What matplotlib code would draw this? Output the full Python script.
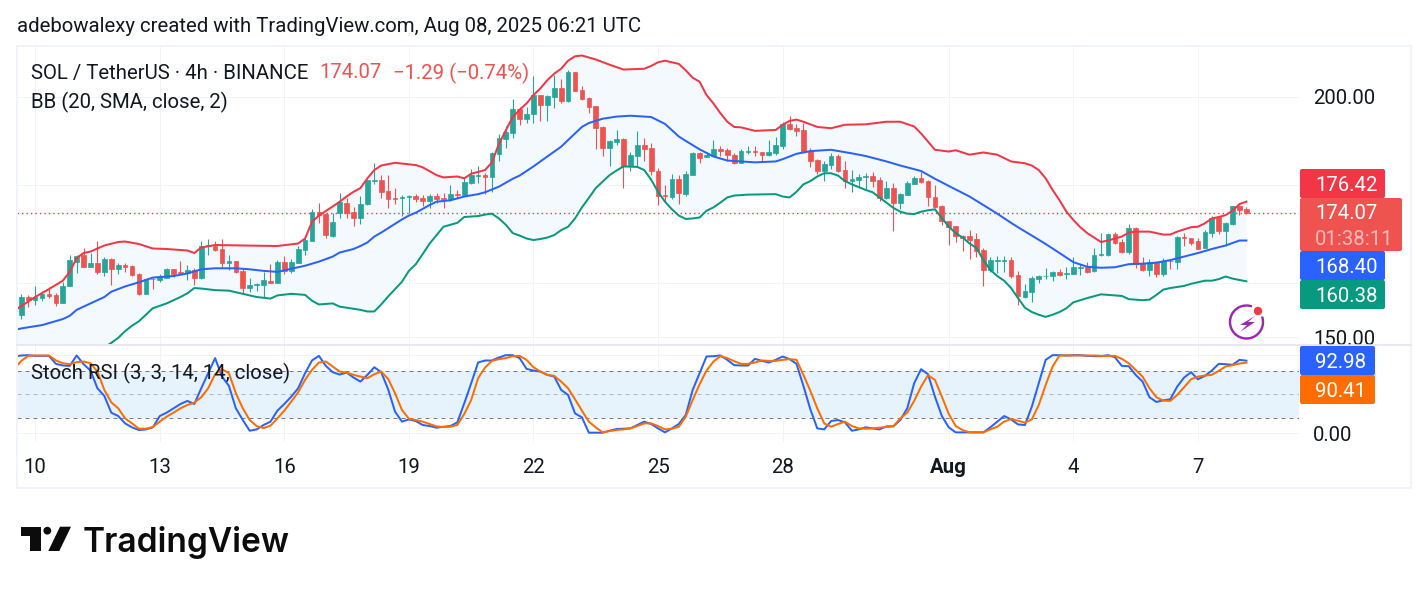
import numpy as np
import matplotlib
matplotlib.use("Agg")
import matplotlib.pyplot as plt
from matplotlib.patches import FancyBboxPatch, Polygon, Circle, Rectangle

plt.rcParams["font.family"] = ["Roboto", "DejaVu Sans"]

# 4h candles, one value per bar
opens = [154.0,157.4,156.9,157.3,158.0,157.8,156.3,159.4,164.2,165.5,
    163.2,163.9,162.2,164.7,162.8,163.5,163.3,161.8,158.0,160.9,
    160.6,161.1,162.8,162.2,162.0,162.6,161.0,167.3,167.4,166.7,
    164.0,164.3,162.4,159.1,159.6,159.7,160.4,160.0,164.1,162.4,
    164.0,166.5,168.3,174.2,173.8,169.4,174.1,176.2,174.2,173.0,
    175.9,180.9,181.1,178.7,177.1,177.2,177.5,177.6,177.1,176.5,
    177.6,177.1,176.9,178.0,177.8,180.4,181.9,182.1,181.6,186.8,
    190.1,191.6,197.1,194.8,195.8,200.4,198.0,199.9,202.1,199.0,
    205.9,201.6,199.7,197.8,192.9,188.2,189.5,190.1,184.0,186.4,
    188.8,188.1,183.0,177.8,177.5,181.2,178.0,182.2,187.0,186.0,
    186.4,187.9,187.6,186.6,184.8,187.2,187.5,187.2,186.6,187.0,
    188.6,193.6,192.6,192.2,187.4,185.5,183.0,184.4,186.3,183.2,
    180.8,181.1,181.6,181.9,181.1,177.2,179.3,176.2,177.8,180.2,
    181.5,180.8,177.4,175.4,172.3,171.4,169.4,169.3,168.7,166.5,
    162.6,164.4,164.4,164.5,161.6,157.4,158.4,160.9,161.4,161.5,
    162.2,161.7,161.8,163.0,163.2,162.4,165.5,165.5,169.7,168.1,
    166.1,171.0,163.9,162.6,164.1,161.8,164.4,164.2,169.1,168.9,
    168.3,166.9,169.9,173.1,170.3,171.7,175.4,174.8]
highs = [158.0,157.8,159.5,158.6,159.3,158.2,160.3,165.5,165.5,166.9,
    165.9,168.3,165.2,164.9,163.9,163.9,163.5,161.9,160.9,161.1,
    161.7,163.0,162.8,164.3,163.5,163.0,168.3,168.7,168.3,168.7,
    165.5,164.3,162.9,161.0,160.1,162.2,163.7,164.5,165.3,164.7,
    167.4,169.2,174.8,176.2,174.1,174.1,178.2,177.1,175.3,177.6,
    181.1,184.7,182.1,182.1,179.3,177.8,177.8,178.0,177.8,178.0,
    178.2,178.2,180.0,178.9,181.6,183.5,184.0,182.6,187.2,191.2,
    193.0,199.4,197.6,197.6,204.9,200.4,200.4,205.2,204.2,206.6,
    205.9,202.6,200.0,197.8,193.0,190.0,192.2,190.3,187.2,192.0,
    190.3,189.2,183.6,180.0,182.3,182.1,183.0,187.1,187.3,187.3,
    189.9,188.6,188.1,186.9,187.8,188.6,188.6,187.3,189.9,190.7,
    194.1,195.4,193.6,193.8,188.1,185.6,185.1,186.9,186.7,185.2,
    183.2,182.3,182.5,182.8,181.6,180.8,180.3,178.3,180.9,181.8,
    182.7,181.1,180.0,175.8,172.4,171.4,169.5,170.5,169.9,166.9,
    165.1,165.3,165.3,165.1,162.4,159.8,161.4,161.6,162.9,162.4,
    162.7,163.1,165.1,163.7,164.1,167.0,169.9,169.9,170.1,168.8,
    171.7,171.1,165.1,164.7,164.3,164.9,164.5,169.4,170.0,169.0,
    169.0,170.5,173.5,173.4,172.1,175.6,175.7,175.2]
lows = [153.4,155.6,155.9,156.7,157.2,155.7,156.3,159.4,162.0,163.2,
    163.2,161.8,161.4,159.7,161.8,162.2,161.4,157.8,158.0,158.9,
    160.3,161.1,161.3,161.8,160.6,159.7,160.8,165.5,166.4,163.1,
    162.6,162.0,158.1,158.4,158.6,157.4,160.0,160.0,161.7,161.9,
    164.0,165.5,168.3,172.0,169.0,169.2,172.9,172.9,171.4,171.7,
    175.7,180.2,177.2,175.1,176.0,173.5,174.0,176.4,175.5,175.0,
    176.2,175.1,176.5,177.1,177.8,180.2,180.4,178.0,178.5,185.3,
    188.1,190.3,193.4,193.8,193.8,194.2,194.2,197.4,198.6,198.8,
    201.4,199.2,196.2,187.9,186.3,184.2,188.8,179.4,183.1,183.8,
    185.1,182.1,175.7,176.4,176.9,176.0,177.7,182.2,184.8,186.0,
    186.4,186.4,185.3,184.6,184.8,186.8,186.4,185.3,186.4,186.6,
    187.9,192.1,190.8,186.9,183.8,182.4,180.8,183.5,182.7,179.4,
    178.5,179.6,179.1,179.6,176.6,176.9,170.3,174.8,177.8,180.1,
    180.3,175.4,175.1,171.6,167.5,168.1,166.3,164.7,165.2,159.4,
    162.2,162.0,162.2,161.1,155.9,157.2,156.4,160.1,160.9,160.5,
    161.4,160.9,161.8,161.6,161.9,162.2,165.3,165.3,167.7,165.9,
    165.7,163.0,162.4,161.5,161.3,161.5,162.7,162.8,167.3,167.5,
    166.7,166.9,169.1,169.7,167.4,171.6,173.7,173.8]
closes = [157.4,156.9,157.4,158.0,157.6,156.2,159.5,164.5,165.3,163.2,
    163.9,162.2,164.8,162.8,163.5,163.2,161.6,158.0,160.8,160.8,
    161.3,162.8,161.8,161.9,162.6,161.0,167.3,167.5,166.5,164.0,
    164.3,162.2,159.1,159.7,159.9,160.6,160.1,164.1,162.4,164.1,
    166.7,168.5,174.2,173.7,169.5,172.2,176.4,174.1,173.0,175.9,
    181.1,181.1,178.5,177.0,176.9,177.5,177.6,176.9,176.5,177.6,
    176.9,176.9,178.0,177.8,180.6,182.1,182.1,181.6,186.9,190.3,
    191.7,197.1,194.7,195.9,200.4,198.0,200.2,202.1,199.0,205.9,
    201.4,199.4,197.6,192.7,188.2,189.6,190.1,184.1,186.6,188.8,
    187.9,182.9,177.7,177.7,181.3,178.3,182.4,187.0,185.9,186.6,
    187.9,187.5,186.6,184.8,187.5,187.4,187.2,186.6,187.2,188.8,
    193.6,192.4,192.0,187.2,185.3,183.0,184.6,186.3,183.1,180.8,
    181.3,181.7,181.9,180.9,177.2,179.3,176.2,178.0,180.3,181.5,
    180.6,177.4,175.2,172.3,171.2,169.4,169.0,168.5,166.4,162.6,
    164.5,164.5,164.5,161.4,157.5,158.6,161.0,161.4,161.5,162.2,
    161.6,161.9,163.2,163.2,162.1,165.5,165.7,169.7,168.0,166.1,
    171.0,163.7,162.6,164.1,161.8,164.3,164.3,169.1,168.9,167.9,
    166.7,170.1,172.9,170.3,171.9,175.4,174.7,174.07]

# Bollinger bands, read at the bars listed
upper_bars = [-1,0,2,4,6,7,8,9,10,11,12,14,15,17,19,21,24,25,26,28,32,37,40,41,42,43,45,46,
    47,48,49,50,51,52,54,57,58,60,61,63,64,65,67,68,69,70,71,72,73,74,75,76,77,78,79,80,81,83,85,87,90,91,92,93,95,
    96,97,98,99,100,101,102,103,104,105,106,109,110,111,112,113,115,117,119,122,125,127,129,130,132,134,135,137,139,141,143,
    145,146,147,148,149,150,151,152,153,154,155,156,157,159,160,161,163,165,166,167,169,170,171,172,173,174,175,176,177]
upper_vals = [154.9,155.7,157.4,158.9,160.5,162.2,164.9,165.9,166.2,166.8,167.4,168.1,168.2,167.7,166.8,166.7,166.4,165.9,167.0,167.5,167.4,167.3,167.8,168.8,172.2,173.5,175.4,176.4,
    177.5,178.5,179.3,181.4,183.2,184.2,184.8,184.3,183.8,182.1,181.6,181.8,181.4,182.4,183.2,184.9,189.0,192.1,195.2,196.9,198.4,200.4,202.0,204.0,205.6,206.8,208.8,209.9,210.1,209.1,207.8,206.6,206.8,207.5,208.4,208.8,208.0,
    206.4,204.6,203.6,200.4,198.4,196.1,194.1,192.9,192.8,192.4,192.0,192.2,193.4,194.3,194.6,194.1,192.9,192.6,193.4,193.5,194.1,194.1,193.0,191.4,187.7,187.3,187.6,186.6,187.1,186.6,185.1,
    184.7,184.2,183.2,181.4,178.9,176.7,174.3,172.6,171.1,169.9,169.0,168.1,168.4,169.2,170.0,170.2,170.2,169.6,169.6,170.2,171.1,171.2,171.9,172.9,173.2,173.6,174.5,175.9,176.42]
middle_bars = [-1,0,3,6,7,8,10,12,13,15,17,19,22,24,26,28,31,33,35,37,39,41,43,45,46,
    48,49,50,51,52,53,55,56,57,59,60,62,64,66,67,69,71,72,74,76,78,80,81,82,84,86,88,91,93,95,
    96,98,100,102,104,106,109,110,112,114,117,120,122,125,127,130,132,135,137,139,141,143,
    144,146,148,150,152,154,156,158,160,162,164,166,168,170,172,174,176,177]
middle_vals = [151.3,151.6,152.2,153.3,153.9,155.0,156.2,157.4,158.4,159.4,160.2,161.1,161.4,161.9,162.7,162.9,162.9,162.7,162.4,162.2,162.8,163.4,164.2,165.2,166.0,
    166.7,167.3,168.0,169.2,170.0,170.9,172.7,173.5,174.1,175.7,176.4,176.7,177.5,178.0,178.4,179.6,181.3,182.0,184.0,186.2,188.4,191.4,192.9,193.8,194.8,195.3,195.5,195.2,193.6,190.7,
    189.7,187.8,186.2,185.3,185.1,184.9,185.1,185.6,186.8,187.4,187.7,186.9,186.3,185.1,184.2,183.0,181.3,179.0,177.5,175.7,173.9,172.0,
    171.1,169.4,167.7,165.9,164.1,163.2,163.0,163.1,163.7,163.8,164.0,164.5,165.2,165.9,166.7,167.4,168.4,168.40]
lower_bars = [-1,3,6,9,11,12,13,14,15,16,17,19,21,23,24,25,26,28,30,32,34,36,37,39,41,42,43,45,46,
    48,49,50,51,52,53,54,55,56,57,58,59,60,61,62,63,64,66,67,68,69,70,71,72,73,74,75,76,77,78,79,80,81,82,83,84,85,86,87,89,90,91,92,93,94,95,
    96,97,98,99,100,101,102,103,105,109,110,111,112,113,114,115,116,117,118,119,120,121,122,123,124,125,126,127,128,129,130,131,132,133,134,135,136,137,138,139,140,141,142,143,144,
    145,146,147,148,149,150,151,152,154,156,158,159,160,162,163,164,165,166,168,169,171,172,173,174,175,177]
lower_vals = [147.7,147.0,146.2,146.0,147.0,148.2,149.0,149.9,151.1,152.1,152.9,155.3,156.2,157.4,158.1,159.1,159.0,158.7,158.6,158.0,157.4,157.1,157.7,158.0,157.8,156.7,156.0,156.2,155.6,
    155.2,155.0,154.7,154.7,156.0,157.5,158.9,160.3,162.4,163.7,165.7,167.8,169.5,171.2,171.6,172.0,173.2,173.4,173.7,173.9,172.9,171.6,169.9,169.4,168.8,168.5,168.7,169.0,169.5,170.5,171.2,172.9,175.2,177.2,179.3,180.7,182.1,183.1,184.0,183.9,183.2,181.1,178.5,176.4,174.8,173.5,
    172.8,172.9,173.1,174.5,175.2,176.2,177.3,177.7,177.9,178.0,177.5,177.3,178.5,180.1,180.8,181.8,182.5,182.5,182.0,180.8,180.1,179.5,178.9,178.4,177.3,176.2,175.1,174.3,173.9,173.8,174.3,174.6,174.8,173.0,171.2,169.9,169.0,167.8,166.9,164.5,162.6,161.4,160.5,159.1,157.2,
    155.4,154.6,154.1,153.7,154.1,154.6,155.3,156.4,157.2,157.9,157.7,157.6,157.0,156.8,156.9,157.8,158.8,159.1,159.5,159.9,160.5,160.5,160.8,161.3,160.9,160.38]

# Stoch RSI per bar, starting one bar left of the first candle
stoch_k = [98.3,99.6,100,99.1,99.1,99.1,88.9,86.8,86.3,99.6,88.5,80.3,57.7,47.9,26.5,22.2,12.8,7.7,4.3,5.1,7.7,22.2,26.5,32.1,37.6,41.5,37.6,57.7,76.9,96.2,72.6,60.7,32.1,17.1,3.4,5.1,10.7,15,29.1,37.6,47,57.7,76.9,93.2,99.1,86.3,78.2,75.2,77.8,71.4,66.2,74.8,84.6,78.2,56.4,27.8,15,17.9,15.8,10.7,9.4,7.3,8.5,9.4,14.1,38.5,64.1,90.6,93.2,93.2,97,100,100,96.2,82.5,80.3,79,74.8,72.6,55.6,49.1,25.6,20.5,0.9,0.9,0.9,3.4,5.6,6,6.4,10.7,15,12,6.4,
    1.3,6.4,12,23.5,55.6,76.9,98.3,98.7,99.6,94,87.2,86.8,86.8,95.3,92.7,90.6,94,98.3,94.9,88.9,60.7,30.8,6.4,5.1,15.8,17.1,14.1,3.4,5.1,7.7,6.4,5.1,9,9,17.1,32.1,64.1,82.1,75.6,47,22.2,7.7,1.3,1.3,1.3,1.3,1.3,7.7,15,22.2,17.9,11.5,10.7,34.2,64.1,94,100,100,99.6,100,100,99.1,98.7,98.7,100,97.4,86.3,85.9,74.8,66.2,46.2,40.2,42.3,43.6,59.8,71.4,78.2,69.2,73.5,80.3,88.9,88.5,87.6,94,92.98]
stoch_d = [83.0,92.7,99.1,99.6,99.6,99.6,93.2,89.7,88.5,91,91.9,89.7,79,55.6,39.7,32.1,19.2,12.8,6,6,8.1,15,21.4,26.5,32.1,36.3,39.3,46.2,57.7,75.6,82.1,76.9,51.3,32.1,17.1,9.4,6.8,9.8,19.2,29.1,40.6,52.6,68.4,81.2,90.6,91.9,85.5,79,77.8,74.8,72.6,70.5,75.6,79,69.7,51.3,29.9,18.8,17.1,15,12,9,8.1,8.5,10.7,24.8,42.7,70.5,84.2,92.7,94.9,96.2,98.7,99.1,94,84.6,79,74.8,73.5,66.2,57.7,43.6,29.1,15,7.7,1.3,3,4.3,5.1,6.4,9.4,12.8,12.8,9.4,
    5.1,6,8.5,21.4,42.7,62.8,80.3,91.9,98.7,96.2,92.3,88.9,88.9,90.6,93.2,92.7,92.7,94,94.9,94,74.8,54.3,32.1,12.8,8.5,12,15,9.4,6.4,6,6.4,7.3,8.1,9,19.2,26.5,41.5,59.8,74.4,68.4,47,24.8,9.4,4.3,1.3,1.3,1.3,5.1,8.5,15,18.4,16.2,13.7,17.9,36.3,62,85.5,99.6,99.6,99.6,99.6,99.6,99.6,99.1,99.1,99.1,95.3,89.7,81.2,72.6,57.7,46.2,41.9,41.5,49.1,59,69.2,72.6,73.9,74.8,79.9,85.5,87.2,89.3,90.41]

day_bars = [2, 20, 38, 56, 74, 92, 110, 134, 152, 170]
day_labels = ["10", "13", "16", "19", "22", "25", "28", "Aug", "4", "7"]
price_grid = [200, 180, 160, 150]

W, H = 1428, 591
GREEN, RED = "#26A69A", "#EF5350"
GRID = "#F0F3FA"
INK = "#131722"
PX = 72 / 100  # one pixel in points
FS = 14.65
LINE = 2.0 * PX


def pane(top, bottom):
    return [17 / W, 1 - bottom / H, (1299 - 17) / W, (bottom - top) / H]


fig = plt.figure(figsize=(W / 100, H / 100), dpi=100, facecolor="white")
ax = fig.add_axes(pane(46, 344))
ax2 = fig.add_axes(pane(345, 442))

bars = np.arange(len(closes))
opens_a, closes_a = np.array(opens), np.array(closes)
colors = [RED if c < o else GREEN for o, c in zip(opens_a, closes_a)]

# band fill and candles
ax.set_yscale("log")
ax.fill(np.r_[upper_bars, lower_bars[::-1]], np.r_[upper_vals, lower_vals[::-1]],
        color="#F4F9FE", lw=0, zorder=1)
ax.vlines(bars, lows, highs, colors=colors, lw=1.1 * PX, zorder=3)
ax.bar(bars, np.abs(closes_a - opens_a), bottom=np.minimum(opens_a, closes_a), width=0.68,
       color=colors, edgecolor=colors, lw=0.5, zorder=3)
ax.plot(upper_bars, upper_vals, color="#F23645", lw=LINE, zorder=4)
ax.plot(middle_bars, middle_vals, color="#2962FF", lw=LINE, zorder=4)
ax.plot(lower_bars, lower_vals, color="#089981", lw=LINE, zorder=4)
ax.axhline(closes[-1], color="#F23645", lw=1.4 * PX, ls=(0, (1, 2.2)), zorder=2)

ax.set_xlim(-0.62, 184.6)
ax.set_ylim(148.8, 212.5)
ax.set_xticks(day_bars)
ax.set_yticks(price_grid)
ax.set_yticklabels(["200.00", "", "", "150.00"])
ax.minorticks_off()
ax.tick_params(axis="x", length=0, labelbottom=False)
ax.tick_params(axis="y", length=0, right=False, left=False, labelleft=False, labelright=True,
               pad=14 * PX, labelsize=FS, labelcolor=INK)
ax.grid(True, color=GRID, lw=1 * PX, zorder=0)
ax.set_axisbelow(True)

# stochastic pane
stoch_x = np.arange(len(stoch_k)) - 1
ax2.axhspan(20, 80, color="#E6F3FC", lw=0, zorder=1)
ax2.axhline(80, color="#787B86", lw=1 * PX, ls=(0, (4, 4)), zorder=2)
ax2.axhline(50, color="#787B86", alpha=0.5, lw=1 * PX, ls=(0, (4, 4)), zorder=2)
ax2.axhline(20, color="#787B86", lw=1 * PX, ls=(0, (4, 4)), zorder=2)
ax2.plot(stoch_x, stoch_k, color="#2962FF", lw=LINE, zorder=3)
ax2.plot(stoch_x, stoch_d, color="#FF6D00", lw=LINE, zorder=4)
ax2.set_xlim(-0.62, 184.6)
ax2.set_ylim(-11, 113)
ax2.set_xticks(day_bars)
ax2.set_xticklabels(day_labels)
ax2.set_yticks([0, 100])
ax2.set_yticklabels(["0.00", ""])
ax2.tick_params(axis="x", length=0, pad=16 * PX, labelsize=FS, labelcolor=INK)
ax2.tick_params(axis="y", length=0, right=False, left=False, labelleft=False, labelright=True,
                pad=14 * PX, labelsize=FS, labelcolor=INK)
ax2.get_xticklabels()[7].set_fontweight("bold")
ax2.grid(True, color=GRID, lw=1 * PX, zorder=0)
ax2.set_axisbelow(True)

for a in (ax, ax2):
    for s in a.spines.values():
        s.set_visible(False)

# page-level overlay in pixel coordinates: frame, labels, logo
ov = fig.add_axes([0, 0, 1, 1], facecolor="none", zorder=10)
ov.set_xlim(0, W)
ov.set_ylim(H, 0)
ov.axis("off")

ov.add_patch(Rectangle((17, 46), 1394, 442, fill=False, ec=GRID, lw=2 * PX))
ov.plot([17, 1411], [344.5, 344.5], color="#E0E3EB", lw=1.5 * PX)

ov.text(17, 27, "adebowalexy created with TradingView.com, Aug 08, 2025 06:21 UTC",
        fontsize=FS, color=INK, va="center")
ov.text(31, 73, "SOL / TetherUS · 4h · BINANCE", fontsize=FS, color=INK, va="center")
ov.text(319, 73, "174.07", fontsize=FS, color=RED, va="center")
ov.text(393, 73, "−1.29 (−0.74%)", fontsize=FS, color=RED, va="center")
ov.text(31, 102, "BB (20, SMA, close, 2)", fontsize=FS, color=INK, va="center")
ov.text(31, 373, "Stoch RSI (3, 3, 14, 14, close)", fontsize=FS, color=INK, va="center")


def tag(top, bottom, right, color, lines):
    ov.add_patch(FancyBboxPatch((1300, top), right - 1300, bottom - top,
                                boxstyle="round,pad=0,rounding_size=2", fc=color, ec="none"))
    step = (bottom - top) / len(lines)
    for i, (txt, alpha) in enumerate(lines):
        ov.text(1315, top + step * (i + 0.5), txt, color="white", alpha=alpha, fontsize=FS,
                va="center_baseline")


tag(169, 198, 1385, "#F23645", [("176.42", 1)])
tag(280, 309, 1385, "#089981", [("160.38", 1)])
tag(251, 280, 1385, "#2962FF", [("168.40", 1)])
tag(198, 251, 1402, "#EF5350", [("174.07", 1), ("01:38:11", 0.6)])
tag(346, 375, 1375, "#2962FF", [("92.98", 1)])
tag(375, 404, 1375, "#FF6D00", [("90.41", 1)])

# lightning badge
t = np.radians(np.linspace(-285, 15, 80))
ov.plot(1246.5 + 16.5 * np.cos(t), 322 - 16.5 * np.sin(t), color="#9C27B0", lw=2.4 * PX)
ov.add_patch(Polygon([(1255, 316), (1240, 325), (1247, 325), (1240, 332), (1255, 322), (1248, 322)],
                     closed=True, fc="#9C27B0", ec="none"))
ov.add_patch(Circle((1258, 311), 4.2, fc="#F23645", ec="none"))

# TradingView mark and wordmark
ov.add_patch(Polygon([(20.7, 526.7), (41, 526.7), (41, 551), (30, 551), (30, 535.7), (20.7, 535.7)],
                     closed=True, fc="#0C0C0C", ec="none"))
ov.add_patch(Circle((47.3, 530.7), 3.9, fc="#0C0C0C", ec="none"))
ov.add_patch(Polygon([(60, 526.7), (71, 526.7), (59.3, 551), (48.3, 551)], closed=True, fc="#0C0C0C", ec="none"))
ov.text(83, 552, "TradingView", family=["Inter", "DejaVu Sans"], fontweight="semibold",
        fontsize=24.1, color="#0C0C0C", va="baseline")

plt.savefig("out.png", dpi=100, facecolor="white")
